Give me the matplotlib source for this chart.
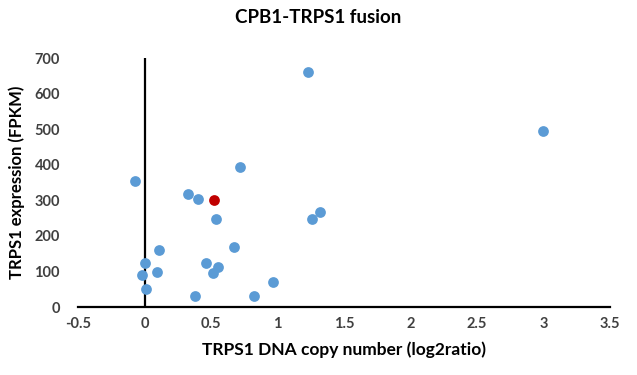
import numpy as np
import matplotlib.pyplot as plt

plt.rcParams['font.family'] = ['Lato', 'DejaVu Sans']

# TRPS1 DNA copy number (log2ratio) vs TRPS1 expression (FPKM)
copy_number = [-0.075, 0.0, -0.02, 0.008, 0.107, 0.095, 0.328, 0.403, 0.535,
               0.383, 0.463, 0.515, 0.55, 0.67, 0.72, 0.82, 0.965, 1.233,
               1.263, 1.318, 3.0]
expression = [355, 125, 89, 51, 160, 98, 317, 305, 247,
              32, 125, 97, 113, 170, 393, 32, 71, 660,
              247, 267, 495]

# the fusion sample, highlighted in red
fusion_copy = [0.52]
fusion_expr = [301]

xticks = [-0.5, 0, 0.5, 1, 1.5, 2, 2.5, 3, 3.5]
yticks = [0, 100, 200, 300, 400, 500, 600, 700]

fig = plt.figure(figsize=(6.37, 3.75), dpi=100)
ax = fig.add_axes([0.1225, 0.1813, 0.835, 0.664])

ax.scatter(copy_number, expression, s=60, color='#5B9BD5', zorder=3, linewidths=0)
ax.scatter(fusion_copy, fusion_expr, s=60, color='#C00000', zorder=3, linewidths=0)

ax.set_xlim(-0.5, 3.5)
ax.set_ylim(0, 700)
ax.set_xticks(xticks)
ax.set_xticklabels(['-0.5', '0', '0.5', '1', '1.5', '2', '2.5', '3', '3.5'])
ax.set_yticks(yticks)

for s in ['top', 'right', 'left']:
    ax.spines[s].set_visible(False)
ax.spines['bottom'].set_linewidth(1.6)
ax.spines['bottom'].set_color('black')
ax.axvline(0, color='black', linewidth=1.6, zorder=2)

ax.tick_params(length=0, labelsize=10.5, labelcolor='#404040')
ax.tick_params(axis='y', pad=13)
ax.tick_params(axis='x', pad=7)
for lbl in ax.get_xticklabels() + ax.get_yticklabels():
    lbl.set_fontweight('bold')

ax.set_xlabel('TRPS1 DNA copy number (log2ratio)', fontsize=12.5, fontweight='bold', labelpad=8)
ax.set_ylabel('TRPS1 expression (FPKM)', fontsize=12, fontweight='bold', labelpad=7)
fig.suptitle('CPB1-TRPS1 fusion', fontsize=13.5, fontweight='bold', y=0.975)

fig.savefig('out.png', dpi=100)
